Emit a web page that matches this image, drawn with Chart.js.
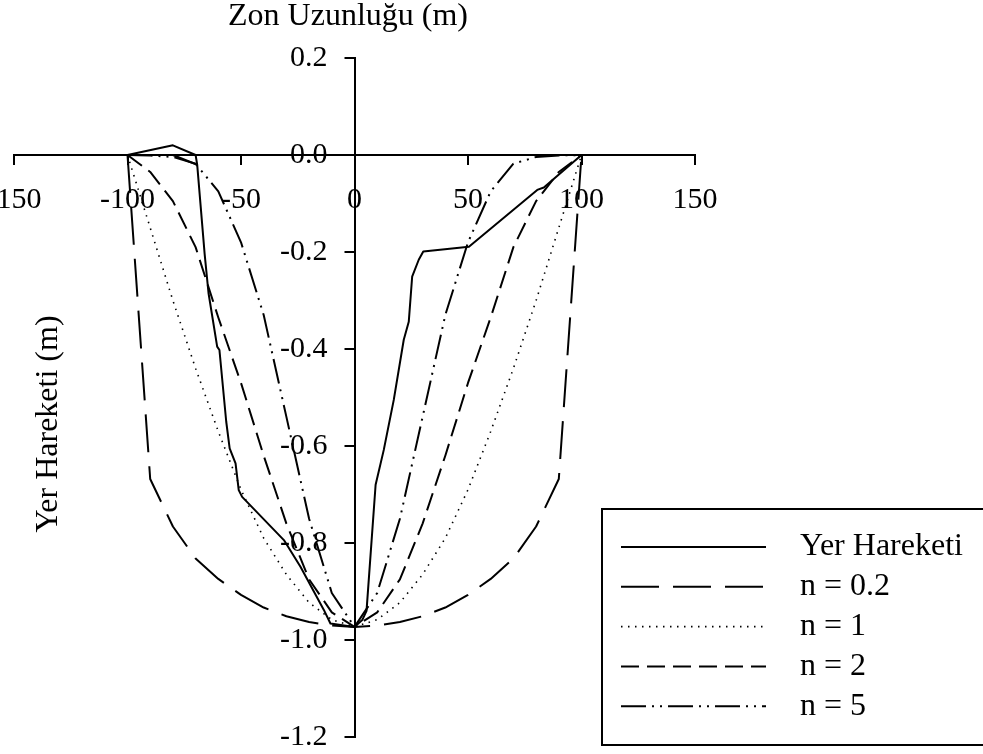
<!DOCTYPE html>
<html>
<head>
<meta charset="utf-8">
<title>Yer Hareketi</title>
<script src="https://cdn.jsdelivr.net/npm/chart.js@4.4.1/dist/chart.umd.min.js"></script>
<style>
  html, body { margin: 0; padding: 0; background: #fff; }
  canvas { display: block; }
</style>
</head>
<body>
<canvas id="zoneChart" width="983" height="754"></canvas>
<script>
// Axis ticks
const xTicks = [-150, -100, -50, 0, 50, 100, 150];
const yTicks = [0.2, 0.0, -0.2, -0.4, -0.6, -0.8, -1.0, -1.2];

// Zone length points (m) for the n curves
const zoneX = [-100, -90, -80, -70, -60, -50, -40, -30, -20, -10, 0, 10, 20, 30, 40, 50, 60, 70, 80, 90, 100];

const n02Y = [0, -0.668, -0.766, -0.832, -0.874, -0.907, -0.933, -0.951, -0.963, -0.970, -0.973,
              -0.970, -0.963, -0.951, -0.933, -0.907, -0.874, -0.832, -0.766, -0.668, 0];
const n1Y  = [0, -0.150, -0.300, -0.440, -0.570, -0.690, -0.790, -0.865, -0.923, -0.958, -0.973,
              -0.958, -0.923, -0.865, -0.790, -0.690, -0.570, -0.440, -0.300, -0.150, 0];
const n2Y  = [0, -0.035, -0.095, -0.190, -0.335, -0.470, -0.620, -0.760, -0.875, -0.943, -0.973,
              -0.943, -0.875, -0.760, -0.620, -0.470, -0.335, -0.190, -0.095, -0.035, 0];
const n5Y  = [0, -0.001, -0.004, -0.018, -0.075, -0.180, -0.330, -0.540, -0.750, -0.903, -0.973,
              -0.903, -0.750, -0.540, -0.330, -0.180, -0.075, -0.018, -0.004, -0.001, 0];

// Measured ground movement (Yer Hareketi)
const yerX = [-100, -80, -70, -69.3, -80, -69.3, -66, -64.3, -60.5, -59.5, -56.5, -55, -52.4, -51, -49.5,
              -31.1, -23.8, -13.5, -10.6, 0, 3.4, 5.3, 9.3, 12.9, 17.3, 21.7, 23.9, 25.4, 28.3, 30.3,
              50.4, 80.5, 83.4, 100];
const yerY = [0, 0.02, 0, -0.02, 0, -0.02, -0.205, -0.285, -0.395, -0.402, -0.55, -0.605, -0.636, -0.691, -0.705,
              -0.794, -0.849, -0.938, -0.966, -0.973, -0.959, -0.94, -0.68, -0.608, -0.505, -0.381, -0.344, -0.251, -0.216, -0.199,
              -0.189, -0.072, -0.067, 0];

const xTitle = 'Zon Uzunluğu (m)';
const yTitle = 'Yer Hareketi (m)';

const serif = '"Liberation Serif", "Times New Roman", serif';

function points(xs, ys) {
    return xs.map((x, i) => ({ x: x, y: ys[i] }));
}

function lineSet(label, data, dash, width) {
    return {
        label: label,
        data: data,
        showLine: true,
        borderColor: '#000',
        backgroundColor: '#000',
        borderWidth: width,
        borderDash: dash,
        borderCapStyle: 'butt',
        borderJoinStyle: 'round',
        pointRadius: 0,
        tension: 0,
        fill: false
    };
}

// Move the axes so they cross at (0, 0); keep the label areas wide enough to show the ticks
const crossAxes = {
    id: 'crossAxes',
    afterLayout(chart) {
        const xs = chart.scales.x;
        const ys = chart.scales.y;
        const x0 = xs.getPixelForValue(0);
        const y0 = ys.getPixelForValue(0);
        ys.left = 0;
        ys.right = x0;
        xs.top = y0;
        xs.bottom = chart.height;
    }
};

// Axis titles
const axisTitles = {
    id: 'axisTitles',
    afterDraw(chart) {
        const ctx = chart.ctx;
        ctx.save();
        ctx.fillStyle = '#000';
        ctx.font = '32px ' + serif;
        ctx.textAlign = 'center';
        ctx.textBaseline = 'middle';
        ctx.fillText(xTitle, 348, 17);
        ctx.translate(49, 424);
        ctx.rotate(-Math.PI / 2);
        ctx.fillText(yTitle, 0, 0);
        ctx.restore();
    }
};

// Boxed legend in the lower right
const boxLegend = {
    id: 'boxLegend',
    afterDraw(chart) {
        const ctx = chart.ctx;
        ctx.save();
        ctx.strokeStyle = '#000';
        ctx.fillStyle = '#000';
        ctx.lineWidth = 2;
        ctx.setLineDash([]);
        ctx.strokeRect(602, 509, 400, 236);
        ctx.font = '32px ' + serif;
        ctx.textAlign = 'left';
        ctx.textBaseline = 'middle';
        chart.data.datasets.forEach((ds, i) => {
            const y = 547 + i * 39.8;
            ctx.lineWidth = ds.borderWidth;
            ctx.setLineDash(ds.borderDash || []);
            ctx.beginPath();
            ctx.moveTo(621, y);
            ctx.lineTo(766, y);
            ctx.stroke();
            ctx.setLineDash([]);
            ctx.fillText(ds.label, 800, y);
        });
        ctx.restore();
    }
};

new Chart(document.getElementById('zoneChart'), {
    type: 'scatter',
    data: {
        datasets: [
            lineSet('Yer Hareketi', points(yerX, yerY), [], 2),
            lineSet('n = 0.2', points(zoneX, n02Y), [38, 14], 2),
            lineSet('n = 1', points(zoneX, n1Y), [1.5, 5.5], 1.6),
            lineSet('n = 2', points(zoneX, n2Y), [18, 8], 2),
            lineSet('n = 5', points(zoneX, n5Y), [25, 6, 2, 6, 2, 6], 2)
        ]
    },
    options: {
        responsive: false,
        animation: false,
        devicePixelRatio: 1,
        layout: {
            autoPadding: false,
            padding: { left: 14, right: 288, top: 58, bottom: 17 }
        },
        plugins: {
            legend: { display: false },
            title: { display: false },
            tooltip: { enabled: false }
        },
        scales: {
            x: {
                type: 'linear',
                position: 'bottom',
                min: xTicks[0],
                max: xTicks[xTicks.length - 1],
                afterBuildTicks: s => { s.ticks = xTicks.map(v => ({ value: v })); },
                afterFit: s => {
                    s.height = 0;
                    s.paddingLeft = 0; s.paddingRight = 0; s.paddingTop = 0; s.paddingBottom = 0;
                },
                ticks: {
                    color: '#000',
                    font: { family: serif, size: 30 },
                    padding: 17,
                    maxRotation: 0,
                    autoSkip: false
                },
                grid: { drawOnChartArea: false, color: '#000', lineWidth: 2, tickLength: 10 },
                border: { color: '#000', width: 2 }
            },
            y: {
                type: 'linear',
                position: 'left',
                min: yTicks[yTicks.length - 1],
                max: yTicks[0],
                afterBuildTicks: s => { s.ticks = yTicks.map(v => ({ value: v })); },
                afterFit: s => {
                    s.width = 0;
                    s.paddingLeft = 0; s.paddingRight = 0; s.paddingTop = 0; s.paddingBottom = 0;
                },
                ticks: {
                    color: '#000',
                    font: { family: serif, size: 30 },
                    padding: 17,
                    autoSkip: false,
                    callback: v => (Math.abs(v) < 1e-9 ? 0 : v).toFixed(1)
                },
                grid: { drawOnChartArea: false, color: '#000', lineWidth: 2, tickLength: 10 },
                border: { color: '#000', width: 2 }
            }
        }
    },
    plugins: [crossAxes, axisTitles, boxLegend]
});
</script>
</body>
</html>
